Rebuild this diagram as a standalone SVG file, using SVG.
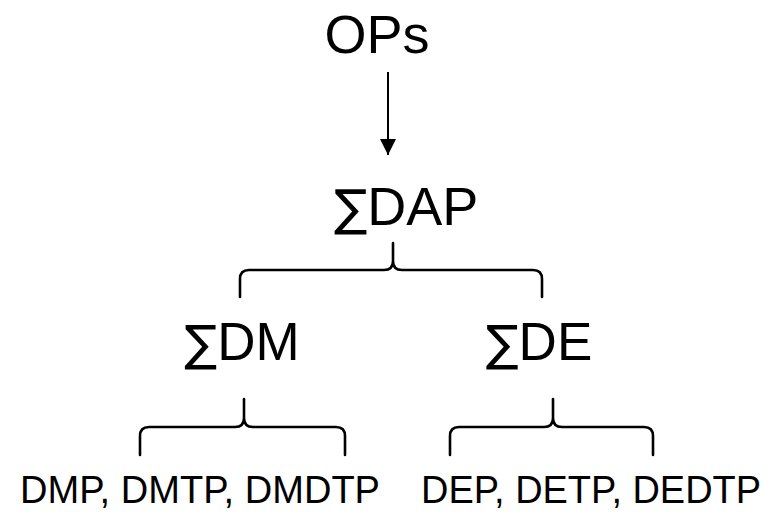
<svg xmlns="http://www.w3.org/2000/svg" width="771" height="512" viewBox="0 0 771 512">
<style>
text{font-family:"Liberation Sans",Arial,"DejaVu Sans",sans-serif;fill:#000;text-anchor:middle}
.big{font-size:54px}
.mid{font-size:53px}
.small{font-size:38px}
.sig{font-family:"DejaVu Sans",sans-serif;font-size:0.92em}
.brace{fill:none;stroke:#000;stroke-width:2.6;stroke-linecap:round;stroke-linejoin:round}
</style>
<defs>
<marker id="ah" markerWidth="8" markerHeight="8" refX="8" refY="4" orient="auto" markerUnits="strokeWidth">
<path d="M0,0 L8,4 L0,8 Z" fill="#000"/>
</marker>
</defs>
<rect width="771" height="512" fill="#fff"/>
<g id="ops"><text class="big" x="377" y="53">OPs</text></g>
<g id="dap"><text class="big" x="406" y="225"><tspan class="sig">∑</tspan>DAP</text></g>
<g id="dm"><text class="mid" x="242" y="360"><tspan class="sig">∑</tspan>DM</text></g>
<g id="de"><text class="mid" x="539" y="360"><tspan class="sig">∑</tspan>DE</text></g>
<g id="dm-items"><text class="small" x="200" y="503" textLength="360" lengthAdjust="spacingAndGlyphs">DMP, DMTP, DMDTP</text></g>
<g id="de-items"><text class="small" x="591" y="503" textLength="340" lengthAdjust="spacingAndGlyphs">DEP, DETP, DEDTP</text></g>
<g id="connectors">
<line x1="388" y1="72" x2="388" y2="155" stroke="#000" stroke-width="2" marker-end="url(#ah)"/>
<path class="brace" d="M240,297 V279 Q240,270 249,270 H384 Q393,270 393,261 V243 M393,261 Q393,270 402,270 H533 Q542,270 542,279 V297"/>
<path class="brace" d="M140,455 V436 Q140,427 149,427 H235 Q244,427 244,418 V399 M244,418 Q244,427 253,427 H336 Q345,427 345,436 V455"/>
<path class="brace" d="M450,455 V436 Q450,427 459,427 H544 Q553,427 553,418 V399 M553,418 Q553,427 562,427 H644 Q653,427 653,436 V455"/>
</g>
</svg>
